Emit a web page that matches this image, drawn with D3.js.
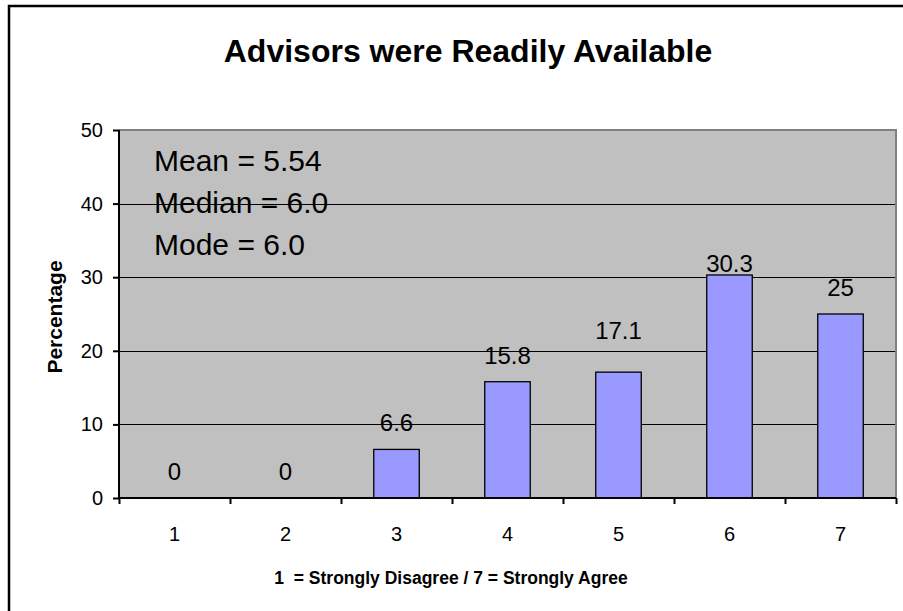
<!DOCTYPE html>
<html>
<head>
<meta charset="utf-8">
<script src="https://cdn.jsdelivr.net/npm/d3@7"></script>
<style>
  body { margin: 0; background: #fff; }
  text { font-family: "Liberation Sans", Arial, sans-serif; fill: #000; }
</style>
</head>
<body>
<div class="chart"></div>
<script>
var categories = ["1", "2", "3", "4", "5", "6", "7"];
var values = [0, 0, 6.6, 15.8, 17.1, 30.3, 25];
var valueLabels = ["0", "0", "6.6", "15.8", "17.1", "30.3", "25"];
var yTicks = [0, 10, 20, 30, 40, 50];
var statLines = ["Mean = 5.54", "Median = 6.0", "Mode = 6.0"];

var svgWidth = 903;
var svgHeight = 611;

var plot = { left: 119, right: 896, top: 130, bottom: 498 };

// a couple of the value labels sit off their usual spot in the original
var labelNudge = { "5": -15, "6": 15 };

var svg = d3.select(".chart")
	.append("svg")
	.attr("width", svgWidth)
	.attr("height", svgHeight);

// outer frame (runs off the right and bottom edge)
svg.append("rect")
	.attr("x", 9)
	.attr("y", 6)
	.attr("width", 1000)
	.attr("height", 1000)
	.attr("fill", "none")
	.attr("stroke", "#000")
	.attr("stroke-width", 2.5);

var x = d3.scaleBand()
	.domain(categories)
	.range([plot.left, plot.right])
	.paddingInner(0.59)
	.paddingOuter(0.295);

var xEdges = d3.scaleLinear()
	.domain([0, categories.length])
	.range([plot.left, plot.right]);

var y = d3.scaleLinear()
	.domain([0, 50])
	.range([plot.bottom, plot.top]);

// plot background
svg.append("rect")
	.attr("x", plot.left)
	.attr("y", y(50))
	.attr("width", plot.right - plot.left)
	.attr("height", y(0) - y(50))
	.attr("fill", "#c0c0c0");

// gridlines
svg.append("g")
	.selectAll("line")
	.data(yTicks.filter(function(d){ return d > 0 && d < 50; }))
	.enter().append("line")
		.attr("x1", plot.left)
		.attr("x2", plot.right)
		.attr("y1", function(d){ return Math.round(y(d)) + 0.5; })
		.attr("y2", function(d){ return Math.round(y(d)) + 0.5; })
		.attr("stroke", "#000")
		.attr("stroke-width", 1.2);

// top and right border of the plot
svg.append("path")
	.attr("d", "M" + plot.left + "," + y(50) + "H" + plot.right + "V" + y(0))
	.attr("fill", "none")
	.attr("stroke", "#808080")
	.attr("stroke-width", 2);

// stats text
svg.append("g")
	.selectAll("text")
	.data(statLines)
	.enter().append("text")
		.attr("x", 154)
		.attr("y", function(d, i){ return 171 + i * 42; })
		.style("font-size", "30px")
		.text(function(d){ return d; });

// bars
svg.append("g")
	.selectAll("rect")
	.data(values)
	.enter().append("rect")
		.attr("x", function(d, i){ return x(categories[i]); })
		.attr("y", function(d){ return y(d); })
		.attr("width", x.bandwidth())
		.attr("height", function(d){ return y(0) - y(d); })
		.attr("fill", "#9999ff")
		.attr("stroke", "#000")
		.attr("stroke-width", 1.3)
		.style("display", function(d){ return d > 0 ? null : "none"; });

// value labels
svg.append("g")
	.selectAll("text")
	.data(values)
	.enter().append("text")
		.attr("x", function(d, i){ return x(categories[i]) + x.bandwidth() / 2; })
		.attr("y", function(d, i){ return y(d) - 18 + (labelNudge[categories[i]] || 0); })
		.attr("text-anchor", "middle")
		.style("font-size", "24px")
		.text(function(d, i){ return valueLabels[i]; });

// y axis
var leftAxis = d3.axisLeft(y)
	.tickValues(yTicks)
	.tickSize(6)
	.tickPadding(10);

var yAxisG = svg.append("g")
	.attr("transform", "translate(" + plot.left + ",0)")
	.call(leftAxis);
yAxisG.select(".domain").attr("stroke-width", 2).attr("d", "M0," + y(0) + "V" + y(50));
yAxisG.selectAll(".tick line").attr("stroke-width", 2);
yAxisG.selectAll("text")
	.style("font-size", "20px")
	.style("font-family", "'Liberation Sans', Arial, sans-serif")
	.attr("fill", "#000");

// x axis: tick marks at category edges, labels at centres
var bottomAxis = d3.axisBottom(xEdges)
	.tickValues(d3.range(categories.length + 1))
	.tickSize(6)
	.tickFormat("");

var xAxisG = svg.append("g")
	.attr("transform", "translate(0," + y(0) + ")")
	.call(bottomAxis);
xAxisG.select(".domain").attr("stroke-width", 2).attr("d", "M" + plot.left + ",0H" + plot.right);
xAxisG.selectAll(".tick line").attr("stroke-width", 2);

svg.append("g")
	.selectAll("text")
	.data(categories)
	.enter().append("text")
		.attr("x", function(d){ return x(d) + x.bandwidth() / 2; })
		.attr("y", y(0) + 43)
		.attr("text-anchor", "middle")
		.style("font-size", "20px")
		.text(function(d){ return d; });

// titles
svg.append("text")
	.attr("x", 468)
	.attr("y", 62)
	.attr("text-anchor", "middle")
	.style("font-size", "32px")
	.style("font-weight", "bold")
	.text("Advisors were Readily Available");

svg.append("text")
	.attr("transform", "translate(62," + ((plot.top + plot.bottom) / 2 + 3) + ") rotate(-90)")
	.attr("text-anchor", "middle")
	.style("font-size", "21px")
	.style("font-weight", "bold")
	.text("Percentage");

svg.append("text")
	.attr("x", 451)
	.attr("y", 584)
	.attr("text-anchor", "middle")
	.style("font-size", "17.5px")
	.style("font-weight", "bold")
	.style("white-space", "pre")
	.text("1  = Strongly Disagree / 7 = Strongly Agree");
</script>
</body>
</html>
